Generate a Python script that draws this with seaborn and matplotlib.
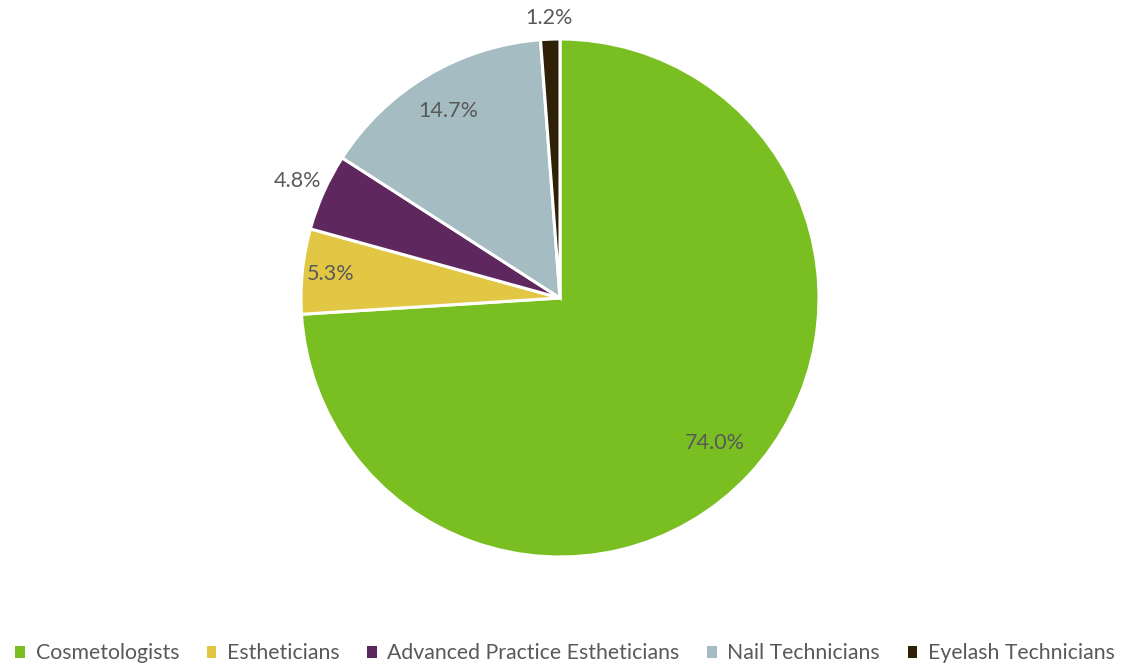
import matplotlib
matplotlib.use("Agg")
import matplotlib.pyplot as plt
import seaborn as sns
import numpy as np
from matplotlib.patches import Patch

categories = ["Cosmetologists", "Estheticians", "Advanced Practice Estheticians",
              "Nail Technicians", "Eyelash Technicians"]
values = [74.0, 5.3, 4.8, 14.7, 1.2]
colors = ["#7abf22", "#e2c744", "#5e285e", "#a5bcc3", "#2e2108"]
label_dist = [0.82, 0.89, 1.11, 0.84, 1.08]

sns.set_theme(style="white")
plt.rcParams['font.family'] = ['Lato', 'DejaVu Sans']
palette = sns.color_palette(colors)

fig = plt.figure(figsize=(11.3, 6.64), dpi=100)
W, H = 1130, 664
cx, cy, r = 560, 298, 259
ax = fig.add_axes([(cx - r) / W, (H - cy - r) / H, 2 * r / W, 2 * r / H])
wedges, _ = ax.pie(values, colors=palette, startangle=90, counterclock=False,
                   radius=1.0, wedgeprops=dict(edgecolor="white", linewidth=2.2))
ax.set_xlim(-1, 1)
ax.set_ylim(-1, 1)
ax.set_aspect("equal")
ax.axis("off")

for w, v, d in zip(wedges, values, label_dist):
    ang = np.deg2rad((w.theta1 + w.theta2) / 2)
    ax.text(d * np.cos(ang), d * np.sin(ang), f"{v:.1f}%", ha="center", va="center",
            fontsize=15.5, color="#595959")

handles = [Patch(facecolor=c, edgecolor="none") for c in palette]
fig.legend(handles, categories, loc="lower center", bbox_to_anchor=(0.5, -0.028),
           ncol=5, frameon=False, fontsize=15.3, handlelength=0.45, handleheight=0.45,
           handletextpad=0.5, columnspacing=1.3, labelcolor="#595959")

fig.savefig("out.png", dpi=100)
